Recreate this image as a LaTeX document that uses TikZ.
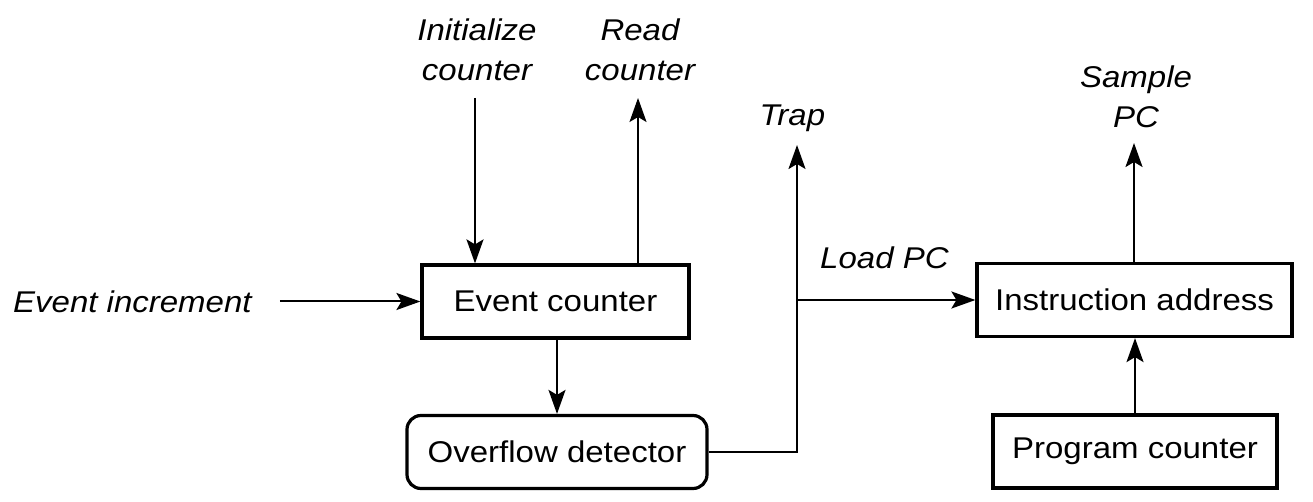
\documentclass[tikz,border=0pt]{standalone}
\usepackage{fontspec}
\setmainfont{Liberation Sans}[FakeStretch=1.1]
\usetikzlibrary{arrows.meta}

\begin{document}
\begin{tikzpicture}[x=1pt,y=-1pt,line width=2pt,
  >={Stealth[length=24pt,width=17pt,inset=5pt]},
  every node/.style={font=\fontsize{30}{40}\selectfont,inner sep=0pt},
  block/.style={draw,line width=3.2pt,minimum height=73pt},
  lbl/.style={font=\fontsize{30}{40}\selectfont\itshape,align=center}]
\useasboundingbox (0,0) rectangle (1313,502);
\node[block]                            (evcnt) at (555.5,301.5) [minimum width=267pt] { Event counter };
\node[block,rounded corners=14pt]       (ovdet) at (557,452)     [minimum width=300pt] { Overflow detector };
\node[block]                            (iaddr) at (1134.5,300)  [minimum width=315pt] { Instruction address };
\node[block]                            (pcnt)  at (1135,451.5)  [minimum width=284pt] { Program counter };
\node[lbl]                              (evinc) at (137,301.5)   { Event increment };
\node[lbl]                              (initl) at (477,50)      { Initialize\\counter };
\node[lbl]                              (readl) at (640,50)      { Read\\counter };
\node[lbl]                              (trapl) at (797,118)     { Trap };
\node[lbl]                              (loadl) at (889,258)     { Load PC };
\node[lbl]                              (samp)  at (1136,97)     { Sample\\PC };
\coordinate (initsrc) at (475,98);
\coordinate (readdst) at (638,98);
\coordinate (bend)    at (797,452);
\coordinate (split)   at (797,300);
\coordinate (trapdst) at (797,145);
\coordinate (sampdst) at (1134,143);
\draw[->, shorten <=18pt] (evinc) -- (evcnt);
\draw[->]                 (initsrc) -- (initsrc |- evcnt.north);
\draw[->]                 (readdst |- evcnt.north) -- (readdst);
\draw[->]                 (evcnt.south -| ovdet.north) -- (ovdet.north);
\draw[->]                 (ovdet.east) -- (bend) -- (trapdst);
\draw[->]                 (split) -- (iaddr.west);
\draw[->]                 (pcnt.north) -- (pcnt.north |- iaddr.south);
\draw[->]                 (sampdst |- iaddr.north) -- (sampdst);
\end{tikzpicture}
\end{document}
